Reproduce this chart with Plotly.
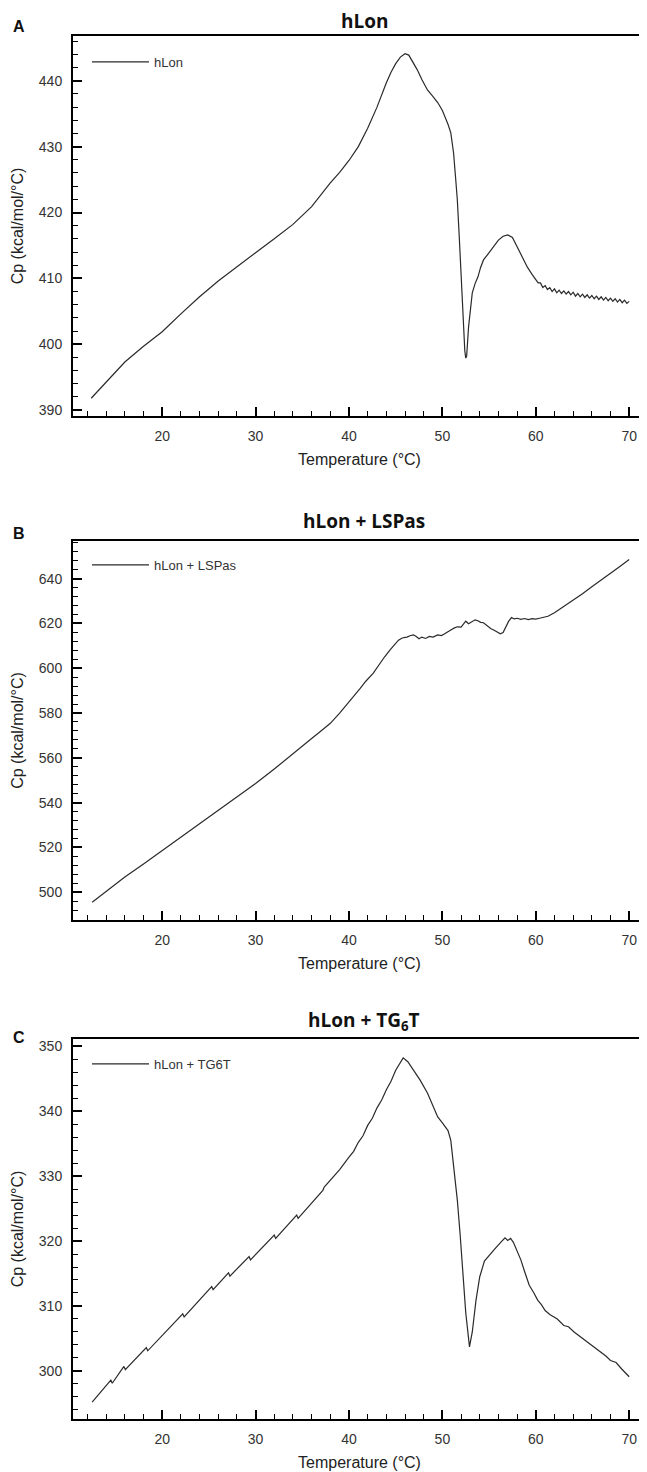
import plotly.graph_objects as go

# ---------------- data ----------------
temp_a = [12.4, 14.0, 16.0, 18.0, 20.0, 22.0, 24.0, 26.0, 28.0, 30.0, 32.0, 34.0, 36.0,
          38.0, 39.0, 40.0, 41.0, 42.0, 43.0, 43.5, 44.0, 44.5, 45.0, 45.5, 46.0, 46.4, 46.8,
          47.3, 47.8, 48.4, 49.0, 49.5, 50.0, 50.3, 50.6, 50.9, 51.2, 51.4, 51.6, 51.8, 52.0, 52.2,
          52.4, 52.5, 52.6, 52.8, 53.0, 53.2, 53.5, 53.8, 54.1, 54.4, 55.0, 55.5, 56.0, 56.5, 57.0,
          57.5, 58.0, 58.5, 59.1, 59.6,
          60.0, 60.25, 60.5, 60.75, 61.0, 61.25, 61.5, 61.75, 62.0, 62.25, 62.5, 62.75, 63.0, 63.25,
          63.5, 63.75, 64.0, 64.25, 64.5, 64.75, 65.0, 65.25, 65.5, 65.75, 66.0, 66.25, 66.5, 66.75,
          67.0, 67.25, 67.5, 67.75, 68.0, 68.25, 68.5, 68.75, 69.0, 69.25, 69.5, 69.75, 70.0]
cp_a = [391.8, 394.3, 397.3, 399.7, 401.9, 404.6, 407.2, 409.6, 411.8, 413.9, 416.0, 418.2, 420.9,
        424.5, 426.1, 427.9, 430.0, 432.8, 436.0, 437.9, 439.7, 441.3, 442.6, 443.6, 444.1, 443.9, 443.0,
        441.7, 440.2, 438.6, 437.6, 436.7, 435.5, 434.5, 433.4, 432.1, 429.0, 425.5, 421.9, 416.5, 410.5, 404.1,
        399.0, 397.9, 398.2, 402.6, 405.5, 407.8, 409.2, 410.2, 411.7, 412.8, 413.9, 414.8, 415.8, 416.4, 416.6,
        416.2, 414.8, 413.2, 411.7, 410.6,
        409.9, 409.3, 409.3, 408.6, 408.9, 408.3, 408.6, 408.0, 408.4, 407.8, 408.2, 407.7, 408.1, 407.6,
        408.0, 407.5, 407.9, 407.3, 407.7, 407.2, 407.6, 407.1, 407.5, 407.0, 407.4, 406.9, 407.3, 406.8,
        407.2, 406.7, 407.1, 406.6, 407.0, 406.5, 406.9, 406.4, 406.8, 406.3, 406.7, 406.2, 406.5]

temp_b = [12.5, 14.0, 16.0, 18.0, 20.0, 22.0, 24.0, 26.0, 28.0, 30.0, 32.0, 33.0, 34.0, 35.0, 36.0,
          37.0, 38.0, 39.0, 40.0, 40.6, 41.2, 41.8, 42.6, 43.2, 43.8, 44.4, 44.9, 45.3, 45.7, 46.2,
          46.6, 46.9, 47.2, 47.5, 47.8, 48.2, 48.6, 49.0, 49.5, 49.9, 50.2, 50.5, 50.9, 51.3, 51.6,
          52.0, 52.3, 52.5, 52.8, 53.1, 53.5, 53.8, 54.1, 54.4, 54.8, 55.2, 55.5, 55.9, 56.2, 56.5,
          56.8, 57.1, 57.4, 57.7, 58.0, 58.4, 58.8, 59.2, 59.6, 60.0, 60.4, 60.8, 61.3, 62.0, 62.5,
          63.0, 64.0, 65.0, 66.0, 67.0, 68.0, 69.0, 70.0]
cp_b = [495.5, 500.5, 506.8, 512.6, 518.6, 524.6, 530.6, 536.5, 542.5, 548.5, 555.0, 558.5, 562.0, 565.3, 568.6,
        572.0, 575.4, 580.0, 585.3, 588.0, 591.0, 594.2, 597.8, 601.5, 605.0, 608.2, 610.8, 612.5, 613.5, 613.9,
        614.6, 614.9, 614.2, 613.2, 613.9, 613.3, 614.2, 613.9, 614.9, 614.6, 615.3, 616.2, 617.1, 618.0, 618.5,
        618.4, 619.7, 621.0, 619.9, 620.8, 621.6, 621.2, 620.5, 620.3, 619.0, 617.6, 617.1, 616.2, 615.4, 615.9,
        618.5, 621.0, 622.6, 622.0, 622.3, 621.8, 622.2, 621.7, 622.1, 621.9, 622.3, 622.6, 623.2, 624.8, 626.2,
        627.4, 630.4, 633.3, 636.4, 639.3, 642.4, 645.4, 648.5]

temp_c = [12.5, 14.5, 14.65, 15.9, 16.05, 18.3, 18.45, 22.2, 22.35, 25.3, 25.45, 27.1, 27.25, 29.3, 29.45,
          32.0, 32.15, 34.4, 34.55, 37.2, 37.35, 38.0, 39.0, 40.0, 40.5, 41.0, 41.5, 42.0, 42.5, 43.0,
          43.5, 44.0, 44.5, 45.0, 45.4, 45.8, 46.3, 46.9, 47.6, 48.4, 49.0, 49.5, 50.0, 50.3, 50.6, 50.9,
          51.2, 51.6, 51.9, 52.2, 52.5, 52.9, 53.2, 53.6, 54.0, 54.5, 55.0, 55.5, 56.0, 56.4, 56.7,
          57.0, 57.3, 57.6, 58.0, 58.4, 58.8, 59.3, 59.8, 60.2, 60.6, 61.0, 61.5, 62.3, 63.0, 63.5,
          64.1, 65.0, 66.0, 66.8, 67.5, 68.0, 68.6, 69.2, 69.7, 70.0]
cp_c = [295.2, 298.6, 298.1, 300.7, 300.2, 303.6, 303.1, 308.8, 308.3, 313.0, 312.5, 315.1, 314.6, 317.6, 317.1,
        320.9, 320.4, 324.0, 323.5, 327.8, 328.3, 329.4, 331.0, 332.9, 333.8, 335.2, 336.2, 337.8, 338.9, 340.5,
        341.7, 343.3, 344.6, 346.3, 347.2, 348.2, 347.6, 346.3, 344.8, 342.8, 340.8, 339.1, 338.2, 337.5, 337.0, 335.5,
        331.4, 326.3, 321.0, 315.5, 309.0, 303.7, 306.0, 310.9, 314.5, 316.9, 317.8, 318.6, 319.4, 320.0, 320.5,
        320.1, 320.4, 319.8, 318.5, 317.1, 315.3, 313.2, 312.0, 310.9, 310.2, 309.3, 308.7, 308.0, 307.0, 306.8,
        306.0, 305.0, 303.9, 303.1, 302.3, 301.6, 301.3, 300.3, 299.5, 299.1]

series_names = ["hLon", "hLon + LSPas", "hLon + TG6T"]
panel_titles = ["<b>hLon</b>", "<b>hLon + LSPas</b>", "<b>hLon + TG<sub>6</sub>T</b>"]
panel_letters = ["A", "B", "C"]
x_range = [10.45, 71.8]
y_ranges = [[389.1, 446.8], [487.6, 656.8], [292.6, 351.1]]
y_dticks = [10, 20, 10]
y_minor = [2, 4, 2]

# ---------------- layout geometry (page pixels; page body has an 8px margin) ----------------
OFF = 8
PAGE_W, PAGE_H = 647, 1472
W, H = PAGE_W - OFF, PAGE_H - OFF
left_px, right_px = 73, 646
tops = [36, 541, 1039]
bottoms = [416, 920, 1419]
title_y = [21, 521, 1021]
letter_y = [27, 533, 1037]
legend_y = [57, 560, 1059]


def px(p):
    return (p - OFF) / W


def py(p):
    return 1 - (p - OFF) / H


fig = go.Figure()
xs = [temp_a, temp_b, temp_c]
ys = [cp_a, cp_b, cp_c]

TICKFONT = dict(family="Liberation Sans, Arial, sans-serif", size=14, color="#333333")
TITLEFONT = dict(family="Liberation Sans, Arial, sans-serif", size=16, color="#222222")

for i in range(3):
    sfx = "" if i == 0 else str(i + 1)
    leg = "legend" if i == 0 else "legend" + str(i + 1)
    fig.add_trace(go.Scatter(
        x=xs[i], y=ys[i], mode="lines", name=series_names[i],
        line=dict(color="#2a2a2a", width=1.2),
        xaxis="x" + sfx, yaxis="y" + sfx, legend=leg, showlegend=True,
    ))
    dom_y = [py(bottoms[i]), py(tops[i])]
    fig.layout["xaxis" + sfx] = dict(
        domain=[px(left_px), px(right_px)], anchor="y" + sfx, range=x_range,
        showline=True, linewidth=2, linecolor="black", mirror=True,
        ticks="inside", ticklen=9, tickwidth=2, tickcolor="black",
        tick0=0, dtick=10, showgrid=False, zeroline=False,
        minor=dict(ticks="inside", ticklen=5, tickwidth=1, tickcolor="black", dtick=2, showgrid=False),
        tickfont=TICKFONT, ticklabelstandoff=6,
        title=dict(text="Temperature (°C)", font=TITLEFONT, standoff=11),
        automargin=False,
    )
    fig.layout["yaxis" + sfx] = dict(
        domain=dom_y, anchor="x" + sfx, range=y_ranges[i],
        showline=True, linewidth=2, linecolor="black", mirror=False,
        ticks="inside", ticklen=9, tickwidth=2, tickcolor="black",
        tick0=0, dtick=y_dticks[i], showgrid=False, zeroline=False,
        minor=dict(ticks="inside", ticklen=5, tickwidth=1, tickcolor="black", dtick=y_minor[i], showgrid=False),
        tickfont=TICKFONT, ticklabelstandoff=6,
        title=dict(text="Cp (kcal/mol/°C)", font=TITLEFONT, standoff=11),
        automargin=False,
    )
    fig.layout[leg] = dict(
        x=px(87), y=py(legend_y[i] - 10), xanchor="left", yanchor="top",
        bgcolor="rgba(0,0,0,0)", borderwidth=0, itemwidth=57,
        font=dict(family="Liberation Sans, Arial, sans-serif", size=13, color="#333333"),
    )
    # faint right border
    fig.add_shape(type="line", xref="paper", yref="paper",
                  x0=px(right_px), x1=px(right_px), y0=dom_y[0], y1=dom_y[1],
                  line=dict(color="#d0d0d0", width=1))
    # panel title
    fig.add_annotation(text=panel_titles[i], xref="paper", yref="paper",
                       x=px(364), y=py(title_y[i]), xanchor="center", yanchor="middle",
                       showarrow=False,
                       font=dict(family="Open Sans, Noto Sans, sans-serif", size=19, color="#111111"))
    # panel letter
    fig.add_annotation(text="<b>" + panel_letters[i] + "</b>", xref="paper", yref="paper",
                       x=px(18.5), y=py(letter_y[i]), xanchor="center", yanchor="middle",
                       showarrow=False,
                       font=dict(family="Liberation Sans, Arial, sans-serif", size=16, color="#111111"))

fig.update_layout(
    width=W, height=H, margin=dict(l=0, r=0, t=0, b=0),
    paper_bgcolor="white", plot_bgcolor="white",
)

fig.write_html("out.html")
